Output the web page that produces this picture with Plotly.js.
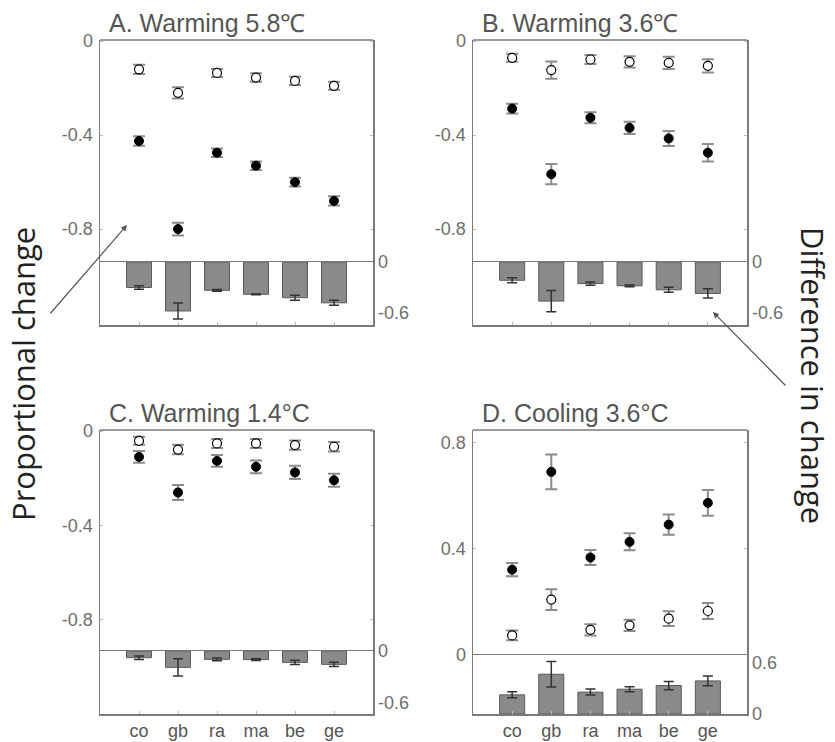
<!DOCTYPE html>
<html>
<head>
<meta charset="utf-8">
<script src="https://cdn.plot.ly/plotly-3.0.1.min.js"></script>
<style>html,body{margin:0;padding:0;background:#fff;}#chart{width:835px;height:742px;}</style>
</head>
<body>
<div id="chart"></div>
<script>
// ---- data ----
const cats = ['co','gb','ra','ma','be','ge'];

const A_open = [-0.12, -0.22, -0.135, -0.155, -0.169, -0.19];
const A_open_err = [0.02, 0.024, 0.017, 0.018, 0.018, 0.017];
const A_filled = [-0.425, -0.80, -0.475, -0.53, -0.60, -0.68];
const A_filled_err = [0.02, 0.027, 0.018, 0.018, 0.019, 0.02];
const A_diff = [-0.30, -0.576, -0.333, -0.38, -0.42, -0.48];
const A_diff_err = [0.02, 0.095, 0.01, 0.005, 0.03, 0.03];

const B_open = [-0.071, -0.123, -0.078, -0.088, -0.092, -0.105];
const B_open_err = [0.017, 0.037, 0.019, 0.024, 0.026, 0.028];
const B_filled = [-0.287, -0.566, -0.326, -0.369, -0.414, -0.475];
const B_filled_err = [0.021, 0.043, 0.023, 0.026, 0.032, 0.037];
const B_diff = [-0.215, -0.46, -0.254, -0.28, -0.327, -0.37];
const B_diff_err = [0.03, 0.125, 0.02, 0.01, 0.03, 0.054];

const C_open = [-0.041, -0.078, -0.052, -0.052, -0.059, -0.066];
const C_open_err = [0.017, 0.02, 0.019, 0.019, 0.02, 0.02];
const C_filled = [-0.109, -0.26, -0.126, -0.151, -0.175, -0.208];
const C_filled_err = [0.025, 0.032, 0.025, 0.027, 0.028, 0.028];
const C_diff = [-0.078, -0.19, -0.097, -0.1, -0.132, -0.155];
const C_diff_err = [0.02, 0.099, 0.015, 0.01, 0.025, 0.025];

const D_open = [0.074, 0.209, 0.095, 0.112, 0.137, 0.166];
const D_open_err = [0.018, 0.039, 0.021, 0.021, 0.028, 0.03];
const D_filled = [0.322, 0.691, 0.368, 0.427, 0.492, 0.574];
const D_filled_err = [0.025, 0.066, 0.028, 0.032, 0.038, 0.049];
const D_diff = [0.224, 0.465, 0.256, 0.29, 0.333, 0.387];
const D_diff_err = [0.035, 0.149, 0.035, 0.03, 0.048, 0.058];

const titles = ['A. Warming 5.8℃', 'B. Warming 3.6℃', 'C. Warming 1.4°C', 'D. Cooling 3.6°C'];
const topTickVals = [[0,-0.4,-0.8],[0,-0.4,-0.8],[0,-0.4,-0.8],[0,0.4,0.8]];
const topTickText = [['0','-0.4','-0.8'],['0','-0.4','-0.8'],['0','-0.4','-0.8'],['0','0.4','0.8']];
const botTickVals = [[0,-0.6],[0,-0.6],[0,-0.6],[0,0.6]];
const botTickText = [['0','-0.6'],['0','-0.6'],['0','-0.6'],['0','0.6']];
const leftLabel = 'Proportional change';
const rightLabel = 'Difference in change';

// ---- layout geometry (pixels) ----
const W = 835, H = 742;
const px = v => v / W, py = v => 1 - v / H;
const panels = [
  {x0:100, x1:373, top:40,  div:262, bot:325, topRange:[-0.94,0.005], botRange:[-0.741,0]},
  {x0:473, x1:747, top:40,  div:262, bot:325, topRange:[-0.94,0.005], botRange:[-0.741,0]},
  {x0:100, x1:373, top:430, div:651, bot:714, topRange:[-0.932,0.005], botRange:[-0.731,0]},
  {x0:473, x1:747, top:430, div:655, bot:714, topRange:[0,0.849], botRange:[0,0.69]}
];
const series = [
  [A_open,A_open_err,A_filled,A_filled_err,A_diff,A_diff_err],
  [B_open,B_open_err,B_filled,B_filled_err,B_diff,B_diff_err],
  [C_open,C_open_err,C_filled,C_filled_err,C_diff,C_diff_err],
  [D_open,D_open_err,D_filled,D_filled_err,D_diff,D_diff_err]
];

const FONT = 'Liberation Sans, Arial, sans-serif';
const frameColor = '#7a7a7a';
const tickFont = {family: FONT, size: 18, color: '#6e6e6e'};

const traces = [];
const layout = {
  width: W, height: H, margin: {l:0, r:0, t:0, b:0},
  paper_bgcolor: '#fff', plot_bgcolor: 'rgba(0,0,0,0)',
  showlegend: false, bargap: 0.36,
  shapes: [], annotations: []
};

panels.forEach((p, i) => {
  const n = i + 1;
  const xa = n === 1 ? 'x' : 'x' + n;
  const yTop = (2*n - 1) === 1 ? 'y' : 'y' + (2*n - 1);
  const yBot = 'y' + (2*n);
  const [op, ope, fi, fie, df, dfe] = series[i];

  traces.push({
    type: 'bar', x: cats, y: df, xaxis: xa, yaxis: yBot,
    marker: {color: '#8a8a8a', line: {color: '#5a5a5a', width: 1}},
    error_y: {type: 'data', array: dfe, visible: true, color: '#333', thickness: 1.5, width: 5}
  });
  traces.push({
    type: 'scatter', mode: 'markers', x: cats, y: fi, xaxis: xa, yaxis: yTop,
    marker: {color: '#000', size: 9, line: {color: '#000', width: 1}},
    error_y: {type: 'data', array: fie, visible: true, color: '#8c8c8c', thickness: 2, width: 6}
  });
  traces.push({
    type: 'scatter', mode: 'markers', x: cats, y: op, xaxis: xa, yaxis: yTop,
    marker: {color: '#fff', size: 9, line: {color: '#000', width: 1.2}},
    error_y: {type: 'data', array: ope, visible: true, color: '#8c8c8c', thickness: 2, width: 6}
  });

  const xKey = n === 1 ? 'xaxis' : 'xaxis' + n;
  const yTopKey = (2*n - 1) === 1 ? 'yaxis' : 'yaxis' + (2*n - 1);
  const yBotKey = 'yaxis' + (2*n);

  layout[xKey] = {
    domain: [px(p.x0), px(p.x1)], anchor: yBot, type: 'category',
    range: [-1, 6], showgrid: false, zeroline: false,
    showline: true, mirror: true, linecolor: frameColor, linewidth: 1.5,
    ticks: 'inside', ticklen: 3, tickcolor: '#bdbdbd', tickwidth: 1,
    showticklabels: i >= 2,
    tickfont: {family: FONT, size: 18, color: '#555'}
  };
  layout[yTopKey] = {
    domain: [py(p.div), py(p.top)], anchor: xa, range: p.topRange,
    showgrid: false, zeroline: false,
    showline: true, mirror: 'allticks', linecolor: frameColor, linewidth: 1.5,
    ticks: 'inside', ticklen: 3, tickcolor: '#bdbdbd',
    tickvals: topTickVals[i], ticktext: topTickText[i], tickfont: tickFont,
    ticklabelstandoff: 2
  };
  layout[yBotKey] = {
    domain: [py(p.bot), py(p.div)], anchor: xa, side: 'right', range: p.botRange,
    showgrid: false, zeroline: false,
    showline: true, mirror: true, linecolor: frameColor, linewidth: 1.5,
    ticks: '',
    tickvals: botTickVals[i], ticktext: botTickText[i], tickfont: tickFont,
    ticklabelstandoff: 0
  };

  // top border of each panel
  layout.shapes.push({type: 'line', xref: 'paper', yref: 'paper',
    x0: px(p.x0), x1: px(p.x1), y0: py(p.top), y1: py(p.top),
    line: {color: frameColor, width: 1.5}});

  layout.annotations.push({
    xref: 'paper', yref: 'paper', x: px(p.x0 + 7), y: py(p.top - 17),
    xanchor: 'left', yanchor: 'middle', showarrow: false, text: titles[i],
    font: {family: FONT, size: 25, color: '#555'}
  });
});

// side labels
layout.annotations.push({
  xref: 'paper', yref: 'paper', x: px(23), y: py(374), textangle: -90,
  xanchor: 'center', yanchor: 'middle', showarrow: false, text: leftLabel,
  font: {family: 'Open Sans, Noto Sans, sans-serif', size: 31, color: '#222'}
});
layout.annotations.push({
  xref: 'paper', yref: 'paper', x: px(813), y: py(375), textangle: 90,
  xanchor: 'center', yanchor: 'middle', showarrow: false, text: rightLabel,
  font: {family: 'Open Sans, Noto Sans, sans-serif', size: 31, color: '#222'}
});
// arrows
layout.annotations.push({
  xref: 'paper', yref: 'paper', x: px(127), y: py(225), ax: -78, ay: 90,
  axref: 'pixel', ayref: 'pixel',
  text: '', showarrow: true, arrowhead: 2, arrowsize: 1, arrowwidth: 1.2, arrowcolor: '#555'
});
layout.annotations.push({
  xref: 'paper', yref: 'paper', x: px(713), y: py(312), ax: 74, ay: 75,
  axref: 'pixel', ayref: 'pixel',
  text: '', showarrow: true, arrowhead: 2, arrowsize: 1, arrowwidth: 1.2, arrowcolor: '#555'
});

Plotly.newPlot('chart', traces, layout, {staticPlot: true, displayModeBar: false});
</script>
</body>
</html>
